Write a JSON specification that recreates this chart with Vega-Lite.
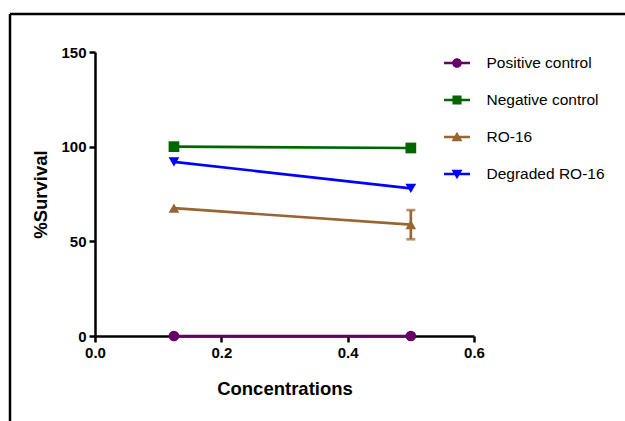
{
  "$schema": "https://vega.github.io/schema/vega-lite/v6.json",
  "width": 615,
  "height": 407,
  "autosize": {"type": "none"},
  "padding": {"left": 10, "top": 14, "right": 0, "bottom": 0},
  "background": "white",
  "config": {
    "font": "Liberation Sans",
    "view": {"stroke": "black", "strokeWidth": 2.5, "strokeDash": [615, 1022, 407, 0], "fill": null}
  },
  "data": {
    "values": [
      {"series": "Positive control", "conc": 0.125, "survival": 0},
      {"series": "Positive control", "conc": 0.5, "survival": 0},
      {"series": "Negative control", "conc": 0.125, "survival": 100},
      {"series": "Negative control", "conc": 0.5, "survival": 99.3},
      {"series": "RO-16", "conc": 0.125, "survival": 67.5},
      {"series": "RO-16", "conc": 0.5, "survival": 58.8, "lo": 51.1, "hi": 66.5},
      {"series": "Degraded RO-16", "conc": 0.125, "survival": 92},
      {"series": "Degraded RO-16", "conc": 0.5, "survival": 78}
    ]
  },
  "encoding": {
    "x": {
      "field": "conc", "type": "quantitative",
      "scale": {"domain": [0, 0.6], "range": [85, 464], "nice": false, "zero": false},
      "axis": {
        "title": "Concentrations", "values": [0, 0.2, 0.4, 0.6], "format": ".1f",
        "offset": -85, "grid": false, "labelFlush": false, "labelOverlap": false,
        "domainColor": "black", "domainWidth": 2.5, "tickColor": "black", "tickWidth": 2.5, "tickSize": 6,
        "labelFont": "Liberation Sans", "labelFontWeight": "bold", "labelFontSize": 15, "labelColor": "black", "labelPadding": 3,
        "titleFont": "Liberation Sans", "titleFontWeight": "bold", "titleFontSize": 18.5, "titleColor": "black", "titlePadding": 19
      }
    },
    "y": {
      "field": "survival", "type": "quantitative",
      "scale": {"domain": [0, 150], "range": [322, 38], "nice": false, "zero": false},
      "axis": {
        "title": "%Survival", "values": [0, 50, 100, 150],
        "offset": -85, "grid": false, "labelOverlap": false,
        "domainColor": "black", "domainWidth": 2.5, "tickColor": "black", "tickWidth": 2.5, "tickSize": 6,
        "labelFont": "Liberation Sans", "labelFontWeight": "bold", "labelFontSize": 15, "labelColor": "black", "labelPadding": 3,
        "titleFont": "Liberation Sans", "titleFontWeight": "bold", "titleFontSize": 18.5, "titleColor": "black", "titlePadding": 10
      }
    }
  },
  "layer": [
    {
      "mark": {"type": "line", "strokeWidth": 2.7},
      "encoding": {
        "color": {
          "field": "series", "type": "nominal", "legend": null,
          "scale": {"domain": ["Positive control", "Negative control", "RO-16", "Degraded RO-16"], "range": ["#660066", "#006600", "#996633", "#0000ff"]}
        }
      }
    },
    {
      "transform": [{"filter": "isValid(datum.lo)"}],
      "mark": {"type": "errorbar", "color": "#996633", "rule": {"strokeWidth": 2.7}, "ticks": {"size": 9, "thickness": 2.7}},
      "encoding": {
        "y": {"field": "lo", "type": "quantitative", "title": "%Survival"},
        "y2": {"field": "hi"}
      }
    },
    {
      "mark": {"type": "point", "filled": true, "opacity": 1, "size": 115},
      "encoding": {
        "color": {
          "field": "series", "type": "nominal", "legend": null,
          "scale": {"domain": ["Positive control", "Negative control", "RO-16", "Degraded RO-16"], "range": ["#660066", "#006600", "#996633", "#0000ff"]}
        },
        "shape": {
          "field": "series", "type": "nominal", "legend": null,
          "scale": {"domain": ["Positive control", "Negative control", "RO-16", "Degraded RO-16"], "range": ["circle", "square", "triangle-up", "triangle-down"]}
        }
      }
    },
    {
      "transform": [{"filter": "false"}],
      "mark": {"type": "point", "filled": true, "opacity": 1, "size": 676},
      "encoding": {
        "color": {
          "field": "series", "type": "nominal",
          "scale": {"domain": ["Positive control", "Negative control", "RO-16", "Degraded RO-16"], "range": ["#660066", "#006600", "#996633", "#0000ff"]},
          "legend": {"title": null, "orient": "none", "legendX": 434, "legendY": 36, "padding": 0, "symbolSize": 676, "symbolStrokeWidth": 0, "symbolOpacity": 1, "labelFont": "Liberation Sans", "labelFontSize": 15.5, "labelColor": "black", "labelOffset": 16.5, "rowPadding": 15, "labelLimit": 0}
        },
        "shape": {
          "field": "series", "type": "nominal",
          "scale": {
            "domain": ["Positive control", "Negative control", "RO-16", "Degraded RO-16"],
            "range": [
              "M-1,-0.1H1V0.1H-1ZM0.37,0A0.37,0.37,0,1,1,-0.37,0A0.37,0.37,0,1,1,0.37,0Z",
              "M-1,-0.1H1V0.1H-1ZM-0.35,-0.35H0.35V0.35H-0.35Z",
              "M-1,-0.1H1V0.1H-1ZM0,-0.4L0.42,0.32H-0.42Z",
              "M-1,-0.1H1V0.1H-1ZM-0.42,-0.32H0.42L0,0.4Z"
            ]
          },
          "legend": {"title": null, "orient": "none", "legendX": 434, "legendY": 36, "padding": 0, "symbolSize": 676, "symbolStrokeWidth": 0, "symbolOpacity": 1, "labelFont": "Liberation Sans", "labelFontSize": 15.5, "labelColor": "black", "labelOffset": 16.5, "rowPadding": 15, "labelLimit": 0}
        }
      }
    }
  ],
  "resolve": {"scale": {"color": "independent", "shape": "independent"}}
}
